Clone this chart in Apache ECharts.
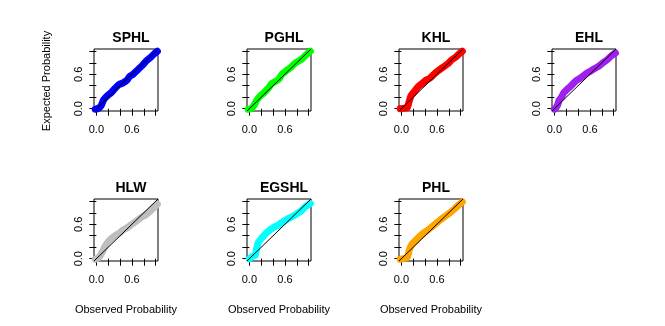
<!DOCTYPE html>
<html><head><meta charset="utf-8">
<script src="https://cdn.jsdelivr.net/npm/echarts@6/dist/echarts.min.js"></script>
<style>html,body{margin:0;padding:0;background:#fff}#c{width:665px;height:326px}</style>
</head><body><div id="c"></div>
<script>
// Panel names and colours
const panelNames = ["SPHL", "PGHL", "KHL", "EHL", "HLW", "EGSHL", "PHL"];
const panelColors = ["#0000FF", "#00FF00", "#FF0000", "#A020F0", "#BEBEBE", "#00FFFF", "#FFA500"];
// Observed vs expected probability pairs
const sphl = [[-0.02,-0.01],[0.04,0.01],[0.08,0.05],[0.12,0.15],[0.18,0.22],[0.25,0.28],[0.32,0.36],[0.38,0.42],[0.45,0.45],[0.52,0.5],[0.56,0.56],[0.62,0.6],[0.7,0.68],[0.78,0.76],[0.85,0.84],[0.92,0.9],[0.98,0.96],[1.03,1.0]];
const pghl = [[-0.02,-0.01],[0.03,0.0],[0.08,0.06],[0.12,0.14],[0.18,0.22],[0.25,0.28],[0.32,0.36],[0.38,0.44],[0.45,0.48],[0.5,0.52],[0.55,0.6],[0.62,0.66],[0.7,0.72],[0.78,0.8],[0.85,0.84],[0.92,0.9],[0.98,0.96],[1.03,1.0]];
const khl = [[-0.02,0.0],[0.05,0.01],[0.1,0.02],[0.13,0.12],[0.16,0.22],[0.22,0.3],[0.28,0.38],[0.35,0.44],[0.42,0.5],[0.48,0.53],[0.55,0.6],[0.62,0.66],[0.7,0.72],[0.78,0.78],[0.85,0.85],[0.92,0.9],[0.98,0.96],[1.03,1.0]];
const ehl = [[0.0,-0.01],[0.03,0.02],[0.06,0.08],[0.08,0.15],[0.12,0.2],[0.16,0.28],[0.2,0.32],[0.26,0.38],[0.32,0.44],[0.38,0.5],[0.45,0.54],[0.52,0.6],[0.6,0.65],[0.68,0.7],[0.75,0.74],[0.82,0.8],[0.9,0.86],[0.96,0.92],[1.03,0.97]];
const hlw = [[-0.02,-0.01],[0.04,0.02],[0.08,0.08],[0.12,0.16],[0.16,0.24],[0.22,0.32],[0.3,0.39],[0.38,0.44],[0.45,0.5],[0.52,0.54],[0.6,0.6],[0.68,0.66],[0.76,0.72],[0.84,0.77],[0.9,0.82],[0.96,0.88],[1.03,0.95]];
const egshl = [[0.0,0.0],[0.05,0.04],[0.1,0.06],[0.12,0.16],[0.15,0.28],[0.2,0.35],[0.26,0.42],[0.32,0.48],[0.4,0.54],[0.48,0.58],[0.56,0.64],[0.64,0.69],[0.72,0.73],[0.8,0.78],[0.88,0.84],[0.94,0.9],[1.03,0.96]];
const phl = [[-0.02,-0.01],[0.04,0.0],[0.1,0.03],[0.13,0.14],[0.17,0.24],[0.24,0.32],[0.31,0.39],[0.38,0.45],[0.45,0.5],[0.52,0.56],[0.59,0.62],[0.66,0.68],[0.74,0.74],[0.82,0.8],[0.9,0.87],[0.96,0.93],[1.03,0.99]];
const panelData = [sphl, pghl, khl, ehl, hlw, egshl, phl];
// Reference diagonal and axis ticks
const diagonal = [[-0.04,-0.04],[1.04,1.04]];
const tickValues = [0, 0.2, 0.4, 0.6, 0.8, 1.0];
const labelValues = [0, 0.6];
const axisMin = -0.04, axisMax = 1.04;

const colLeft = [94, 247, 399, 552];
const rowTop = [49, 199];
const boxW = 64, boxH = 62;
const font = '"Liberation Sans", Arial, sans-serif';

const grids = [], xAxes = [], yAxes = [], series = [], titles = [], graphics = [];
panelData.forEach((d, i) => {
  const r = Math.floor(i / 4), c = i % 4;
  const left = colLeft[c], top = rowTop[r];
  grids.push({left: left, top: top, width: boxW, height: boxH, show: true, borderColor: '#000', borderWidth: 1, backgroundColor: 'transparent'});
  const axisCommon = {
    type: 'value', gridIndex: i, min: axisMin, max: axisMax,
    axisLine: {show: false}, splitLine: {show: false},
    axisTick: {show: true, inside: false, length: 7, customValues: tickValues, lineStyle: {color: '#000', width: 1}},
  };
  xAxes.push(Object.assign({}, axisCommon, {
    axisLabel: {show: true, customValues: labelValues, margin: 13, fontSize: 11, color: '#000', fontFamily: font, formatter: v => v.toFixed(1)}
  }));
  yAxes.push(Object.assign({}, axisCommon, {
    axisLabel: {show: true, customValues: labelValues, margin: 10, rotate: 90, fontSize: 11, color: '#000', fontFamily: font, formatter: v => v.toFixed(1)}
  }));
  series.push({type: 'line', xAxisIndex: i, yAxisIndex: i, data: d, showSymbol: false, symbol: 'none', smooth: 0.2, clip: true,
    lineStyle: {color: panelColors[i], width: 7, cap: 'round', join: 'round'}, silent: true, animation: false, z: 2});
  series.push({type: 'line', xAxisIndex: i, yAxisIndex: i, data: diagonal, symbol: 'none', clip: true,
    lineStyle: {color: '#000', width: 1}, silent: true, animation: false, z: 5});
  titles.push({text: panelNames[i], left: left + boxW / 2, top: top - 23, textAlign: 'center',
    textStyle: {fontSize: 14, fontWeight: 'bold', color: '#000', fontFamily: font}});
  if (r === 1) {
    graphics.push({type: 'text', x: left + boxW / 2, y: 310,
      style: {text: 'Observed Probability', fill: '#000', font: '11px ' + font, textAlign: 'center', textVerticalAlign: 'middle'}});
  }
});
graphics.push({type: 'text', x: 47, y: 81, rotation: Math.PI / 2,
  style: {text: 'Expected Probability', fill: '#000', font: '11px ' + font, textAlign: 'center', textVerticalAlign: 'middle'}});

const chart = echarts.init(document.getElementById('c'), null, {renderer: 'canvas'});
chart.setOption({
  animation: false, backgroundColor: '#fff',
  title: titles, grid: grids, xAxis: xAxes, yAxis: yAxes, series: series, graphic: graphics
});
</script></body></html>
